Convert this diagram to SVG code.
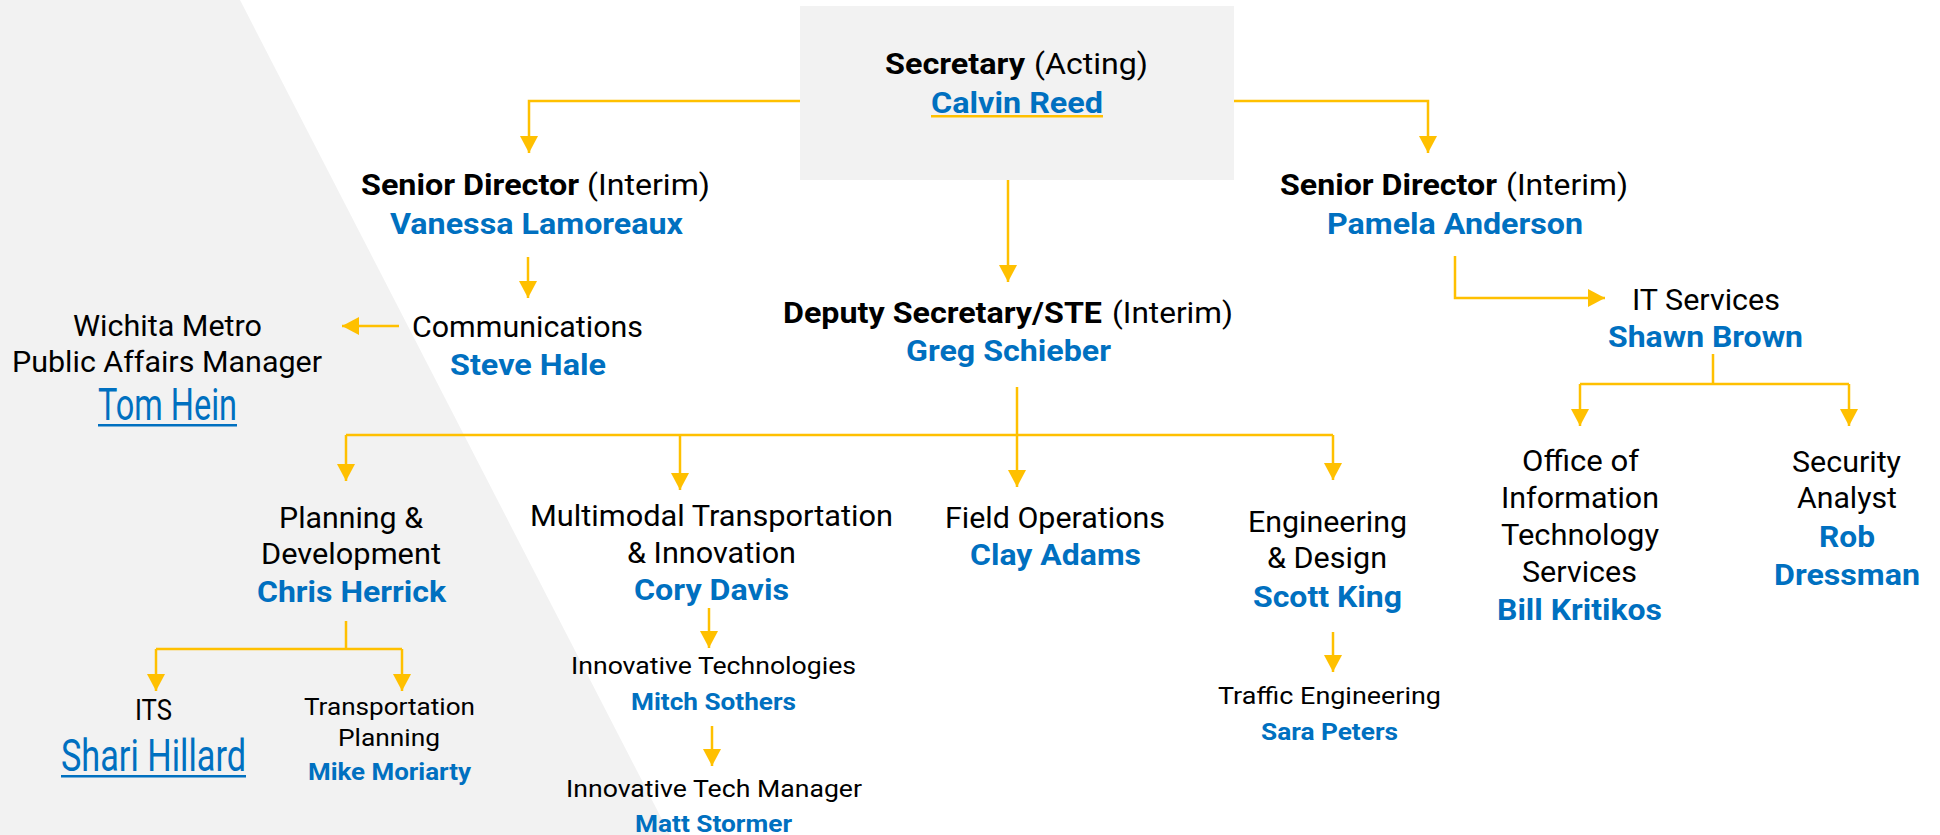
<svg xmlns="http://www.w3.org/2000/svg" width="1940" height="835" viewBox="0 0 1940 835">
<defs>
<style>
text{font-family:Roboto,"Liberation Sans",sans-serif;font-size:29px;fill:#000}
.b{font-weight:700}
.n{font-weight:700;fill:#0070C0;font-size:30px}
.s{font-size:24px}
.big{font-size:45px;fill:#0070C0}
.c{fill:none;stroke:#FFC000;stroke-width:2.5}
.a{fill:none;stroke:#FFC000;stroke-width:2.5;marker-end:url(#arr)}
</style>
<marker id="arr" markerUnits="userSpaceOnUse" markerWidth="18" markerHeight="18" refX="17" refY="9" orient="auto">
<path d="M0,0 L17,9 L0,18 z" fill="#FFC000"/>
</marker>
</defs>
<rect x="0" y="0" width="1940" height="835" fill="#fff"/>
<polygon points="0,0 240,0 670,835 0,835" fill="#F2F2F2"/>

<g id="connectors">
<path class="a" d="M800,101 H529 V153"/>
<path class="a" d="M1234,101 H1428 V153"/>
<path class="a" d="M1008,180 V282"/>
<path class="a" d="M528,257 V298"/>
<path class="a" d="M399,326 H342"/>
<path class="a" d="M1455,256 V298 H1605"/>
<path class="c" d="M1713,354 V384 M1580,384 H1849"/>
<path class="a" d="M1580,384 V426"/>
<path class="a" d="M1849,384 V426"/>
<path class="a" d="M1017,387 V487"/>
<path class="c" d="M346,435 H1333"/>
<path class="a" d="M346,435 V481"/>
<path class="a" d="M680,435 V490"/>
<path class="a" d="M1333,435 V480"/>
<path class="c" d="M346,621 V649 M156,649 H402"/>
<path class="a" d="M156,649 V691"/>
<path class="a" d="M402,649 V691"/>
<path class="a" d="M709,608 V648"/>
<path class="a" d="M712,726 V766"/>
<path class="a" d="M1333,632 V672"/>
</g>

<g id="secretary">
<rect x="800" y="6" width="434" height="174" fill="#F2F2F2"/>
<text class="b" x="885" y="74" textLength="140" lengthAdjust="spacingAndGlyphs">Secretary</text>
<text x="1034" y="74" textLength="114" lengthAdjust="spacingAndGlyphs">(Acting)</text>
<text class="n" x="931" y="113" textLength="172" lengthAdjust="spacingAndGlyphs">Calvin Reed</text>
<rect x="931" y="115" width="172" height="2.5" fill="#FFC000"/>
</g>

<g id="senior-director-left">
<text class="b" x="361" y="195" textLength="218" lengthAdjust="spacingAndGlyphs">Senior Director</text>
<text x="587" y="195" textLength="123" lengthAdjust="spacingAndGlyphs">(Interim)</text>
<text class="n" x="390" y="234" textLength="293" lengthAdjust="spacingAndGlyphs">Vanessa Lamoreaux</text>
</g>

<g id="senior-director-right">
<text class="b" x="1280" y="195" textLength="217" lengthAdjust="spacingAndGlyphs">Senior Director</text>
<text x="1506" y="195" textLength="122" lengthAdjust="spacingAndGlyphs">(Interim)</text>
<text class="n" x="1327" y="234" textLength="256" lengthAdjust="spacingAndGlyphs">Pamela Anderson</text>
</g>

<g id="deputy">
<text class="b" x="783" y="323" textLength="319" lengthAdjust="spacingAndGlyphs">Deputy Secretary/STE</text>
<text x="1112" y="323" textLength="121" lengthAdjust="spacingAndGlyphs">(Interim)</text>
<text class="n" x="906" y="361" textLength="205" lengthAdjust="spacingAndGlyphs">Greg Schieber</text>
</g>

<g id="communications">
<text x="412" y="337" textLength="231" lengthAdjust="spacingAndGlyphs">Communications</text>
<text class="n" x="450" y="375" textLength="156" lengthAdjust="spacingAndGlyphs">Steve Hale</text>
</g>

<g id="wichita">
<text x="73" y="336" textLength="189" lengthAdjust="spacingAndGlyphs">Wichita Metro</text>
<text x="12" y="372" textLength="310" lengthAdjust="spacingAndGlyphs">Public Affairs Manager</text>
<text class="big" x="98" y="420" textLength="139" lengthAdjust="spacingAndGlyphs">Tom Hein</text>
<rect x="98" y="424" width="139" height="2.5" fill="#0070C0"/>
</g>

<g id="it-services">
<text x="1632" y="310" textLength="148" lengthAdjust="spacingAndGlyphs">IT Services</text>
<text class="n" x="1608" y="347" textLength="195" lengthAdjust="spacingAndGlyphs">Shawn Brown</text>
</g>

<g id="oits">
<text x="1522" y="471" textLength="117" lengthAdjust="spacingAndGlyphs">Office of</text>
<text x="1501" y="508" textLength="158" lengthAdjust="spacingAndGlyphs">Information</text>
<text x="1501" y="545" textLength="158" lengthAdjust="spacingAndGlyphs">Technology</text>
<text x="1522" y="582" textLength="115" lengthAdjust="spacingAndGlyphs">Services</text>
<text class="n" x="1497" y="620" textLength="165" lengthAdjust="spacingAndGlyphs">Bill Kritikos</text>
</g>

<g id="security">
<text x="1792" y="472" textLength="109" lengthAdjust="spacingAndGlyphs">Security</text>
<text x="1797" y="508" textLength="100" lengthAdjust="spacingAndGlyphs">Analyst</text>
<text class="n" x="1819" y="547" textLength="56" lengthAdjust="spacingAndGlyphs">Rob</text>
<text class="n" x="1774" y="585" textLength="146" lengthAdjust="spacingAndGlyphs">Dressman</text>
</g>

<g id="planning">
<text x="279" y="528" textLength="144" lengthAdjust="spacingAndGlyphs">Planning &amp;</text>
<text x="261" y="564" textLength="180" lengthAdjust="spacingAndGlyphs">Development</text>
<text class="n" x="257" y="602" textLength="189" lengthAdjust="spacingAndGlyphs">Chris Herrick</text>
</g>

<g id="its">
<text x="135" y="720" textLength="37" lengthAdjust="spacingAndGlyphs">ITS</text>
<text class="big" x="61" y="771" textLength="185" lengthAdjust="spacingAndGlyphs">Shari Hillard</text>
<rect x="61" y="775" width="185" height="2.5" fill="#0070C0"/>
</g>

<g id="transportation-planning">
<text class="s" x="304" y="715" textLength="171" lengthAdjust="spacingAndGlyphs">Transportation</text>
<text class="s" x="338" y="746" textLength="102" lengthAdjust="spacingAndGlyphs">Planning</text>
<text class="n s" x="308" y="780" textLength="163" lengthAdjust="spacingAndGlyphs">Mike Moriarty</text>
</g>

<g id="multimodal">
<text x="530" y="526" textLength="363" lengthAdjust="spacingAndGlyphs">Multimodal Transportation</text>
<text x="627" y="563" textLength="169" lengthAdjust="spacingAndGlyphs">&amp; Innovation</text>
<text class="n" x="634" y="600" textLength="155" lengthAdjust="spacingAndGlyphs">Cory Davis</text>
</g>

<g id="innovative-technologies">
<text class="s" x="571" y="674" textLength="285" lengthAdjust="spacingAndGlyphs">Innovative Technologies</text>
<text class="n s" x="631" y="710" textLength="165" lengthAdjust="spacingAndGlyphs">Mitch Sothers</text>
</g>

<g id="innovative-tech-manager">
<text class="s" x="566" y="797" textLength="296" lengthAdjust="spacingAndGlyphs">Innovative Tech Manager</text>
<text class="n s" x="635" y="832" textLength="157" lengthAdjust="spacingAndGlyphs">Matt Stormer</text>
</g>

<g id="field-operations">
<text x="945" y="528" textLength="220" lengthAdjust="spacingAndGlyphs">Field Operations</text>
<text class="n" x="970" y="565" textLength="171" lengthAdjust="spacingAndGlyphs">Clay Adams</text>
</g>

<g id="engineering">
<text x="1248" y="532" textLength="159" lengthAdjust="spacingAndGlyphs">Engineering</text>
<text x="1267" y="568" textLength="120" lengthAdjust="spacingAndGlyphs">&amp; Design</text>
<text class="n" x="1253" y="607" textLength="149" lengthAdjust="spacingAndGlyphs">Scott King</text>
</g>

<g id="traffic-engineering">
<text class="s" x="1218" y="704" textLength="223" lengthAdjust="spacingAndGlyphs">Traffic Engineering</text>
<text class="n s" x="1261" y="740" textLength="137" lengthAdjust="spacingAndGlyphs">Sara Peters</text>
</g>
</svg>
